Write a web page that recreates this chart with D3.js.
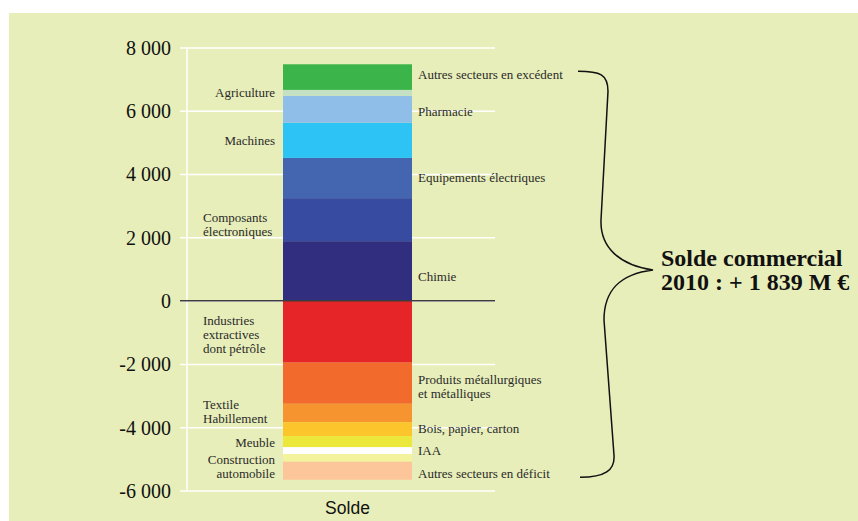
<!DOCTYPE html>
<html>
<head>
<meta charset="utf-8">
<script src="https://cdn.jsdelivr.net/npm/d3@7"></script>
<style>
  html, body { margin: 0; padding: 0; background: #ffffff; }
  svg { display: block; }
</style>
</head>
<body>
<svg id="chart" width="858" height="521"></svg>
<script>
// ---------------- DATA ----------------
const categories = ["Solde"];
// stacked from zero outward (positive upward, negative downward), in M€
const sectors = [
  "Chimie",
  "Composants\nélectroniques",
  "Equipements électriques",
  "Machines",
  "Pharmacie",
  "Agriculture",
  "Autres secteurs en excédent",
  "Industries\nextractives\ndont pétrôle",
  "Produits métallurgiques\net métalliques",
  "Textile\nHabillement",
  "Bois, papier, carton",
  "Meuble",
  "IAA",
  "Construction\nautomobile",
  "Autres secteurs en déficit"
];
const values = [1880, 1360, 1270, 1110, 850, 190, 810,
                -1960, -1300, -580, -440, -350, -220, -240, -570];
const tickValues = [-6000, -4000, -2000, 0, 2000, 4000, 6000, 8000];
const totalLabel = ["Solde commercial", "2010 : + 1 839 M €"];

// ---------------- STYLE / LAYOUT ----------------
const colors = ["#312e80", "#374ca0", "#4466b0", "#2dc4f5", "#8fbee8", "#c4e1c4", "#3bb54a",
                "#e52527", "#f26b2d", "#f6942f", "#fdc52c", "#ebe83b", "#ffffff", "#f3f29d", "#fdc59a"];
// label side: "L" = left of bar, right-aligned; "LS" = left, start-aligned; "R" = right of bar
const labelSide = ["R", "LS", "R", "L", "R", "L", "R", "LS", "R", "LS", "R", "L", "R", "L", "R"];
const labelNudge = [6, 5, -1, 0, 2, 0, -3, 3, 3, -2, -1, 1, 0, 9, 3];

const W = 858, H = 521;
const svg = d3.select("#chart");

svg.append("rect").attr("x", 9).attr("y", 13).attr("width", W - 9).attr("height", H - 13)
  .attr("fill", "#e7eeb9");

const y = d3.scaleLinear().domain([-6000, 8000]).range([490.5, 47.5]);
const x = d3.scaleBand().domain(categories).range([283, 412]).padding(0);

const gridLeft = 180, gridRight = 495;

// grid + tick labels
const locale = d3.formatLocale({ decimal: ",", thousands: " ", grouping: [3], currency: ["", " €"], minus: "-" });
const fmt = locale.format(",d");

const axis = d3.axisLeft(y).tickValues(tickValues).tickFormat(fmt)
  .tickSize(-(gridRight - gridLeft)).tickPadding(9);
const gAxis = svg.append("g").attr("transform", `translate(${gridLeft},0)`).call(axis);
gAxis.select(".domain").remove();
gAxis.selectAll(".tick line").attr("stroke", "#ffffff").attr("stroke-width", 1.5);
gAxis.selectAll(".tick text")
  .attr("font-family", "'Liberation Serif', 'DejaVu Serif', serif")
  .attr("font-size", 20).attr("fill", "#111").attr("dy", "0.34em");

// vertical white axis line
svg.append("line").attr("x1", 187).attr("x2", 187).attr("y1", y(8000)).attr("y2", y(-6000))
  .attr("stroke", "#ffffff").attr("stroke-width", 1.5);

// stacked segments
let posAcc = 0, negAcc = 0;
const segs = values.map((v, i) => {
  let y0, y1;
  if (v >= 0) { y0 = posAcc; y1 = posAcc + v; posAcc = y1; }
  else { y0 = negAcc; y1 = negAcc + v; negAcc = y1; }
  return { name: sectors[i], v, y0, y1, i };
});

svg.append("g").selectAll("rect").data(segs).join("rect")
  .attr("x", x("Solde"))
  .attr("width", x.bandwidth())
  .attr("y", d => y(Math.max(d.y0, d.y1)))
  .attr("height", d => Math.abs(y(d.y0) - y(d.y1)))
  .attr("fill", d => colors[d.i]);

// zero line
svg.append("line").attr("x1", gridLeft).attr("x2", gridRight).attr("y1", y(0)).attr("y2", y(0))
  .attr("stroke", "#3d3d3d").attr("stroke-width", 1.5);

// segment labels
const lh = 14;
const gl = svg.append("g")
  .attr("font-family", "'Liberation Serif', 'DejaVu Serif', serif")
  .attr("font-size", 13).attr("fill", "#2a2a2a");
segs.forEach(d => {
  const lines = d.name.split("\n");
  const cy = (y(d.y0) + y(d.y1)) / 2 + labelNudge[d.i];
  const side = labelSide[d.i];
  let tx, anchor;
  if (side === "R") { tx = 418; anchor = "start"; }
  else if (side === "L") { tx = 275; anchor = "end"; }
  else { tx = 203; anchor = "start"; }
  const t = gl.append("text").attr("text-anchor", anchor);
  lines.forEach((ln, k) => {
    t.append("tspan").attr("x", tx)
      .attr("y", cy - (lines.length - 1) * lh / 2 + k * lh)
      .attr("dy", "0.35em").text(ln);
  });
});

// x category label
svg.append("text").attr("x", x("Solde") + x.bandwidth() / 2).attr("y", 514)
  .attr("text-anchor", "middle")
  .attr("font-family", "'Liberation Sans', Arial, sans-serif")
  .attr("font-size", 17.5).attr("fill", "#111").text(categories[0]);

// brace
const yTop = y(d3.sum(values.filter(v => v > 0))) + 7;
const yBot = y(d3.sum(values.filter(v => v < 0))) - 2.5;
const yMid = 270;
const bracePath = `M578,${yTop} C600,${yTop} 608,${yTop + 3} 608,${yTop + 20}
  L601,${yMid - 50} C600,${yMid - 22} 620,${yMid - 5} 653,${yMid}
  C620,${yMid + 4} 604,${yMid + 20} 604,${yMid + 50}
  L614,${yBot - 22} C615,${yBot - 7} 605,${yBot} 580,${yBot}`;
svg.append("path").attr("d", bracePath).attr("fill", "none")
  .attr("stroke", "#111").attr("stroke-width", 1.5);

// total label
const tl = svg.append("text")
  .attr("font-family", "'Liberation Serif', 'DejaVu Serif', serif")
  .attr("font-weight", "bold").attr("font-size", 24).attr("fill", "#111");
totalLabel.forEach((ln, k) => {
  tl.append("tspan").attr("x", 661).attr("y", 266 + k * 24).text(ln);
});
</script>
</body>
</html>
